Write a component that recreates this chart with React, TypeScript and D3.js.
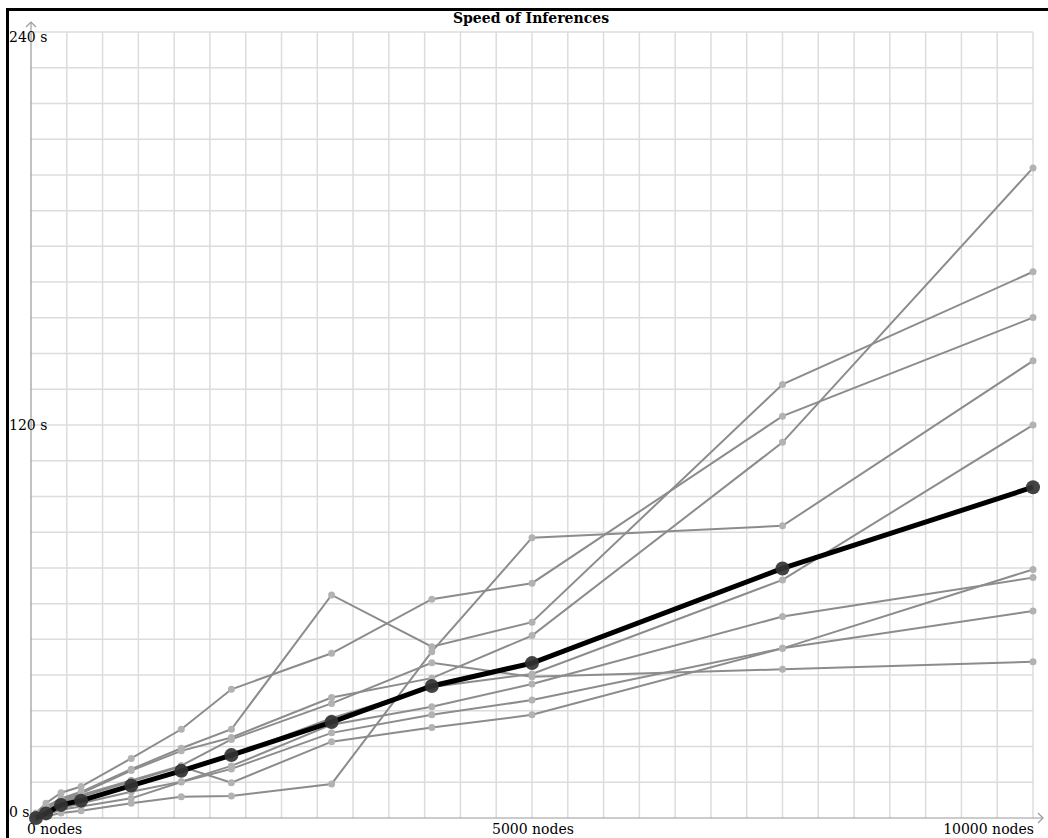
import { useEffect, useRef } from 'react'
import * as d3 from 'd3'

// problem size (nodes) at which every run was timed
const nodes = [50, 150, 300, 500, 1000, 1500, 2000, 3000, 4000, 5000, 7500, 10000]

// single runs, seconds (same order as nodes)
const runA = [1.0, 3.0, 5.5, 7.5, 14.5, 20.5, 24.6, 36.8, 42.7, 55.7, 114.7, 198.5]
const runB = [1.0, 3.5, 6.0, 8.0, 14.9, 21.3, 27.1, 68.1, 52.3, 59.8, 132.4, 166.8]
const runC = [1.5, 4.5, 7.7, 9.6, 18.2, 27.1, 39.3, 50.3, 66.8, 71.7, 122.7, 152.8]
const runD = [0.0, 0.5, 1.5, 2.2, 4.5, 6.5, 6.7, 10.4, 50.8, 85.6, 89.2, 139.6]
const runE = [0.5, 2.0, 4.0, 5.5, 10.0, 14.0, 19.0, 30.5, 40.0, 44.0, 72.7, 120.0]
const runF = [0.3, 1.0, 2.5, 3.5, 6.0, 11.0, 15.0, 26.0, 31.5, 36.0, 51.8, 75.9]
const runG = [0.5, 1.5, 3.0, 4.5, 8.0, 11.1, 15.9, 28.5, 34.0, 40.9, 61.5, 73.4]
const runH = [0.8, 2.5, 4.5, 6.5, 11.1, 15.7, 10.8, 23.3, 27.6, 31.5, 51.8, 63.2]
const runI = [0.8, 3.0, 5.0, 7.0, 11.5, 16.0, 24.0, 35.0, 47.4, 43.1, 45.4, 47.7]
const runs = [runA, runB, runC, runD, runE, runF, runG, runH, runI]

// highlighted (average) run
const average = [0.0, 1.4, 4.0, 5.3, 9.9, 14.4, 19.2, 29.3, 40.3, 47.3, 76.2, 101.0]

const yTicks = [0, 120, 240]
const xTicks = [0, 5000, 10000]
const xGridCount = 28
const yGridCount = 22

export default function App() {
  const ref = useRef<SVGSVGElement | null>(null)

  useEffect(() => {
    const el = ref.current
    if (!el) return
    const svg = d3.select(el)
    svg.selectAll('*').remove()

    const left = 31, right = 1033, top = 32, bottom = 818
    const x = d3.scaleLinear().domain([0, 10000]).range([left, right])
    const y = d3.scaleLinear().domain([0, 240]).range([bottom, top])
    const font = '"DejaVu Serif", serif'

    svg.append('rect').attr('width', 1048).attr('height', 838).attr('fill', '#fff')

    // grid
    const grid = svg.append('g').attr('stroke', '#dcdcdc').attr('stroke-width', 1.5)
    grid.selectAll('line.v')
      .data(d3.range(1, xGridCount + 1).map((i) => (i * 10000) / xGridCount))
      .join('line')
      .attr('x1', (d) => x(d)).attr('x2', (d) => x(d))
      .attr('y1', top).attr('y2', bottom)
    grid.selectAll('line.h')
      .data(d3.range(1, yGridCount + 1).map((i) => (i * 240) / yGridCount))
      .join('line')
      .attr('x1', left).attr('x2', right)
      .attr('y1', (d) => y(d)).attr('y2', (d) => y(d))

    // axes with arrow heads
    const ax = svg.append('g').attr('stroke', '#9a9a9a').attr('stroke-width', 1.2).attr('fill', 'none')
    ax.append('line').attr('x1', left).attr('x2', left).attr('y1', bottom).attr('y2', top - 10)
    ax.append('path').attr('d', `M${left - 5},${top - 5}L${left},${top - 10}L${left + 5},${top - 5}`)
    ax.append('line').attr('x1', left).attr('x2', right + 10).attr('y1', bottom).attr('y2', bottom)
    ax.append('path').attr('d', `M${right + 5},${bottom - 5}L${right + 10},${bottom}L${right + 5},${bottom + 5}`)

    // frame
    svg.append('rect')
      .attr('x', 7.5).attr('y', 9.5).attr('width', 1100).attr('height', 900)
      .attr('fill', 'none').attr('stroke', '#000').attr('stroke-width', 3)

    // title
    svg.append('text')
      .attr('x', 531).attr('y', 23)
      .attr('text-anchor', 'middle')
      .attr('font-family', font).attr('font-weight', 'bold').attr('font-size', 14)
      .text('Speed of Inferences')

    // tick labels
    svg.selectAll('text.ylab')
      .data(yTicks)
      .join('text')
      .attr('class', 'ylab')
      .attr('x', 9)
      .attr('y', (d) => y(d) - 1 + (11 * d) / 240)
      .attr('font-family', font).attr('font-size', 14)
      .text((d) => `${d} s`)
    svg.selectAll('text.xlab')
      .data(xTicks)
      .join('text')
      .attr('class', 'xlab')
      .attr('x', (d) => (d === 0 ? x(d) - 4 : x(d) + 1))
      .attr('y', 834)
      .attr('text-anchor', (d) => (d === 0 ? 'start' : d === 10000 ? 'end' : 'middle'))
      .attr('font-family', font).attr('font-size', 14)
      .text((d) => `${d} nodes`)

    const line = d3.line<number>().x((_, i) => x(nodes[i])).y((d) => y(d))

    // individual runs
    svg.append('g')
      .selectAll('path')
      .data(runs)
      .join('path')
      .attr('d', (d) => line(d))
      .attr('fill', 'none')
      .attr('stroke', '#8c8c8c')
      .attr('stroke-width', 2)
    svg.append('g')
      .selectAll('circle')
      .data(runs.flatMap((r) => r.map((v, i) => [nodes[i], v])))
      .join('circle')
      .attr('cx', (d) => x(d[0]))
      .attr('cy', (d) => y(d[1]))
      .attr('r', 3.5)
      .attr('fill', '#b2b2b2')

    // average run
    svg.append('path')
      .attr('d', line(average))
      .attr('fill', 'none')
      .attr('stroke', '#000')
      .attr('stroke-width', 5)
    svg.append('g')
      .selectAll('circle')
      .data(average.map((v, i) => [nodes[i], v]))
      .join('circle')
      .attr('cx', (d) => x(d[0]))
      .attr('cy', (d) => y(d[1]))
      .attr('r', 7)
      .attr('fill', '#333')
      .attr('fill-opacity', 0.92)
  }, [])

  return (
    <svg
      ref={ref}
      width={1048}
      height={838}
      style={{ position: 'absolute', left: 0, top: 0, display: 'block' }}
    />
  )
}
